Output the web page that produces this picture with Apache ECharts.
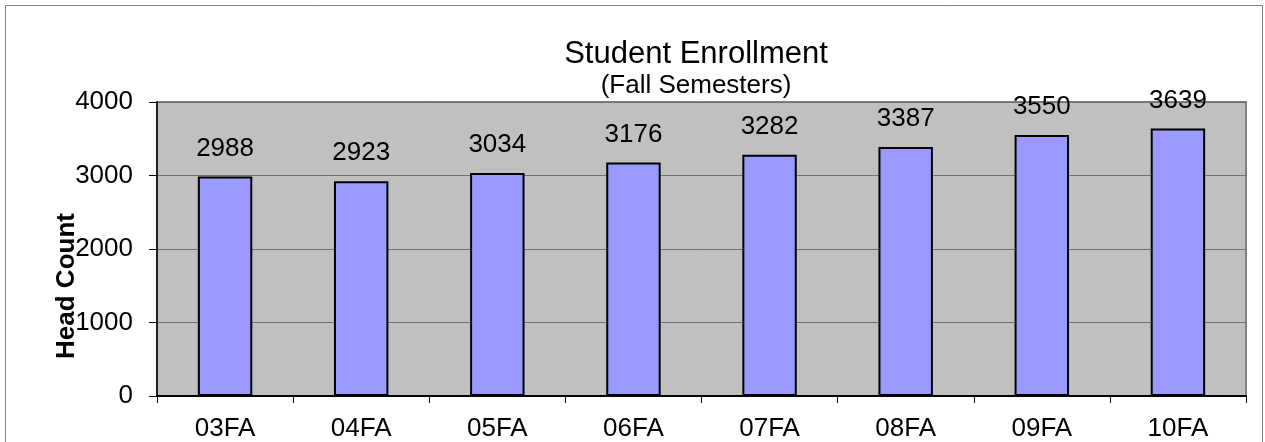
<!DOCTYPE html>
<html>
<head>
<meta charset="utf-8">
<script src="https://cdn.jsdelivr.net/npm/echarts@6/dist/echarts.min.js"></script>
<style>
html,body{margin:0;padding:0;background:#fff;}
#chart{width:1265px;height:442px;}
</style>
</head>
<body>
<div id="chart"></div>
<script>
const categories = ['03FA','04FA','05FA','06FA','07FA','08FA','09FA','10FA'];
const headCount = [2988, 2923, 3034, 3176, 3282, 3387, 3550, 3639];
const yTicks = { min: 0, max: 4000, interval: 1000 };
const titleText = 'Student Enrollment';
const subtitleText = '(Fall Semesters)';
const yAxisName = 'Head Count';

const FONT = '"Liberation Sans", Arial, sans-serif';
const chart = echarts.init(document.getElementById('chart'), null, {renderer: 'canvas'});
chart.setOption({
  animation: false,
  backgroundColor: '#ffffff',
  graphic: [{
    type: 'rect', silent: true, z: -1,
    shape: {x: 5.5, y: 5.5, width: 1257, height: 460},
    style: {fill: 'none', stroke: '#808080', lineWidth: 1}
  }],
  title: [
    {text: titleText, left: 691, top: 34, textAlign: 'center',
     textStyle: {fontFamily: FONT, fontSize: 31, fontWeight: 'normal', color: '#000'}},
    {text: subtitleText, left: 691, top: 68, textAlign: 'center',
     textStyle: {fontFamily: FONT, fontSize: 26, fontWeight: 'normal', color: '#000'}}
  ],
  grid: {
    left: 157, right: 19, top: 102, bottom: 45,
    show: true, backgroundColor: '#C0C0C0', borderColor: '#808080', borderWidth: 2,
    containLabel: false
  },
  xAxis: {
    type: 'category', data: categories, boundaryGap: true,
    axisLine: {show: true, lineStyle: {color: '#000', width: 2}},
    axisTick: {show: true, length: 7, alignWithLabel: false, lineStyle: {color: '#000', width: 1}},
    axisLabel: {margin: 20, fontFamily: FONT, fontSize: 26, color: '#000'},
    splitLine: {show: false}
  },
  yAxis: {
    type: 'value', min: yTicks.min, max: yTicks.max, interval: yTicks.interval,
    name: yAxisName, nameLocation: 'middle', nameRotate: 90, nameGap: 77, nameMoveOverlap: false,
    nameTextStyle: {fontFamily: FONT, fontSize: 26, fontWeight: 'bold', color: '#000', padding: [0, 74, 0, 0]},
    axisLine: {show: true, lineStyle: {color: '#000', width: 1.5}},
    axisTick: {show: true, length: 8, lineStyle: {color: '#000', width: 1}},
    axisLabel: {margin: 24, fontFamily: FONT, fontSize: 26, color: '#000', formatter: v => String(v)},
    splitLine: {show: true, lineStyle: {color: '#707070', width: 1}}
  },
  series: [{
    type: 'bar', data: headCount, barWidth: '40%',
    itemStyle: {color: '#9999FF', borderColor: '#000', borderWidth: 2},
    label: {show: true, position: 'top', distance: 15, fontFamily: FONT, fontSize: 26, color: '#000'}
  }]
});
</script>
</body>
</html>
